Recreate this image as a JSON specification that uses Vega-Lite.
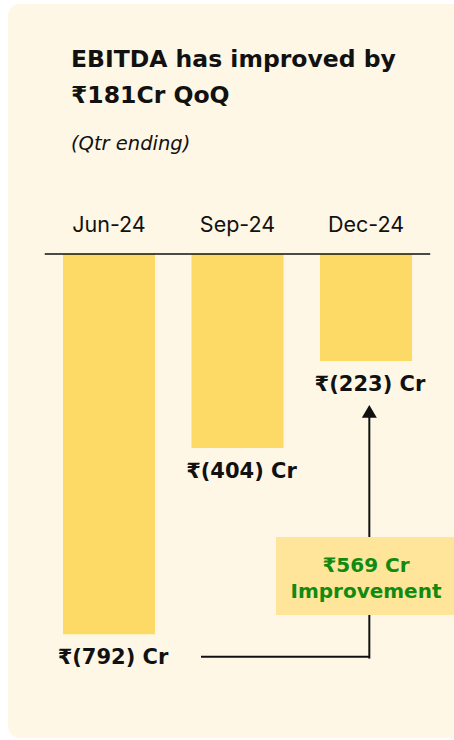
{
  "$schema": "https://vega.github.io/schema/vega-lite/v6.json",
  "width": 446,
  "height": 734,
  "autosize": {"type": "none"},
  "padding": {"left": 8, "top": 4, "right": 0, "bottom": 2},
  "background": "#ffffff",
  "config": {"view": {"stroke": null}},
  "datasets": {
    "quarters": [
      {"quarter": "Jun-24", "order": 0, "ebitda": -792, "label": "₹(792) Cr"},
      {"quarter": "Sep-24", "order": 1, "ebitda": -404, "label": "₹(404) Cr"},
      {"quarter": "Dec-24", "order": 2, "ebitda": -223, "label": "₹(223) Cr"}
    ],
    "box": [{"line": "₹569 Cr", "pos": -662.5}, {"line": "Improvement", "pos": -716.7}],
    "heading": [{"line": "EBITDA has improved by", "pos": 390.2}, {"line": "₹181Cr QoQ", "pos": 313.9}],
    "sub": [{"line": "(Qtr ending)", "pos": 216.7}],
    "one": [{"k": 1}]
  },
  "layer": [
    {
      "data": {"name": "one"},
      "mark": {"type": "rect", "fill": "#FEF7E5", "cornerRadius": 12, "clip": false},
      "encoding": {
        "x": {"datum": -0.786, "type": "quantitative", "axis": null, "scale": {"domain": [-0.786, 2.685], "nice": false, "zero": false, "padding": 0}},
        "x2": {"datum": 3.2},
        "y": {"datum": 520.83, "type": "quantitative", "axis": null, "scale": {"domain": [-1008.33, 520.83], "nice": false, "zero": false, "padding": 0}},
        "y2": {"datum": -1008.33}
      }
    },
    {
      "data": {"name": "quarters"},
      "mark": {"type": "bar", "width": 92, "color": "#FDD966"},
      "encoding": {
        "x": {"field": "order", "type": "quantitative"},
        "y": {"field": "ebitda", "type": "quantitative"},
        "y2": {"datum": 0}
      }
    },
    {
      "data": {"name": "quarters"},
      "mark": {"type": "text", "font": "DejaVu Sans", "fontWeight": "bold", "fontSize": 21, "baseline": "alphabetic", "align": "center", "dy": 30, "dx": 4, "color": "#111111"},
      "encoding": {
        "x": {"field": "order", "type": "quantitative"},
        "y": {"field": "ebitda", "type": "quantitative"},
        "text": {"field": "label"}
      }
    },
    {
      "data": {"name": "quarters"},
      "mark": {"type": "text", "font": "Inter", "fontSize": 21.5, "baseline": "alphabetic", "align": "center", "color": "#111111"},
      "encoding": {
        "x": {"field": "order", "type": "quantitative"},
        "y": {"datum": 46.5, "type": "quantitative"},
        "text": {"field": "quarter"}
      }
    },
    {
      "data": {"name": "one"},
      "mark": {"type": "rule", "color": "#111111", "strokeWidth": 1.5},
      "encoding": {
        "x": {"datum": -0.5, "type": "quantitative"},
        "x2": {"datum": 2.5},
        "y": {"datum": 0, "type": "quantitative"}
      }
    },
    {
      "data": {"name": "one"},
      "mark": {"type": "rule", "color": "#111111", "strokeWidth": 2},
      "encoding": {
        "x": {"datum": 0.716, "type": "quantitative"},
        "x2": {"datum": 2.026},
        "y": {"datum": -838.9, "type": "quantitative"}
      }
    },
    {
      "data": {"name": "one"},
      "mark": {"type": "rule", "color": "#111111", "strokeWidth": 2},
      "encoding": {
        "x": {"datum": 2.026, "type": "quantitative"},
        "y": {"datum": -842.9, "type": "quantitative"},
        "y2": {"datum": -335}
      }
    },
    {
      "data": {"name": "one"},
      "mark": {"type": "point", "shape": "M0,-0.85L1,0.85L-1,0.85Z", "size": 225, "filled": true, "color": "#111111", "opacity": 1},
      "encoding": {
        "x": {"datum": 2.026, "type": "quantitative"},
        "y": {"datum": -328.1, "type": "quantitative"}
      }
    },
    {
      "data": {"name": "one"},
      "mark": {"type": "rect", "fill": "#FFE599"},
      "encoding": {
        "x": {"datum": 1.2996, "type": "quantitative"},
        "x2": {"datum": 2.685},
        "y": {"datum": -589.6, "type": "quantitative"},
        "y2": {"datum": -752}
      }
    },
    {
      "data": {"name": "box"},
      "mark": {"type": "text", "font": "DejaVu Sans", "fontWeight": "bold", "fontSize": 20, "baseline": "alphabetic", "align": "center", "color": "#118A11"},
      "encoding": {
        "x": {"datum": 2.0, "type": "quantitative"},
        "y": {"field": "pos", "type": "quantitative"},
        "text": {"field": "line"}
      }
    },
    {
      "data": {"name": "heading"},
      "mark": {"type": "text", "font": "DejaVu Sans", "fontWeight": "bold", "fontSize": 23.5, "baseline": "alphabetic", "align": "left", "color": "#111111"},
      "encoding": {
        "x": {"datum": -0.2957, "type": "quantitative"},
        "y": {"field": "pos", "type": "quantitative"},
        "text": {"field": "line"}
      }
    },
    {
      "data": {"name": "sub"},
      "mark": {"type": "text", "font": "DejaVu Sans", "fontStyle": "italic", "fontSize": 19.5, "baseline": "alphabetic", "align": "left", "color": "#111111"},
      "encoding": {
        "x": {"datum": -0.2957, "type": "quantitative"},
        "y": {"field": "pos", "type": "quantitative"},
        "text": {"field": "line"}
      }
    }
  ]
}
